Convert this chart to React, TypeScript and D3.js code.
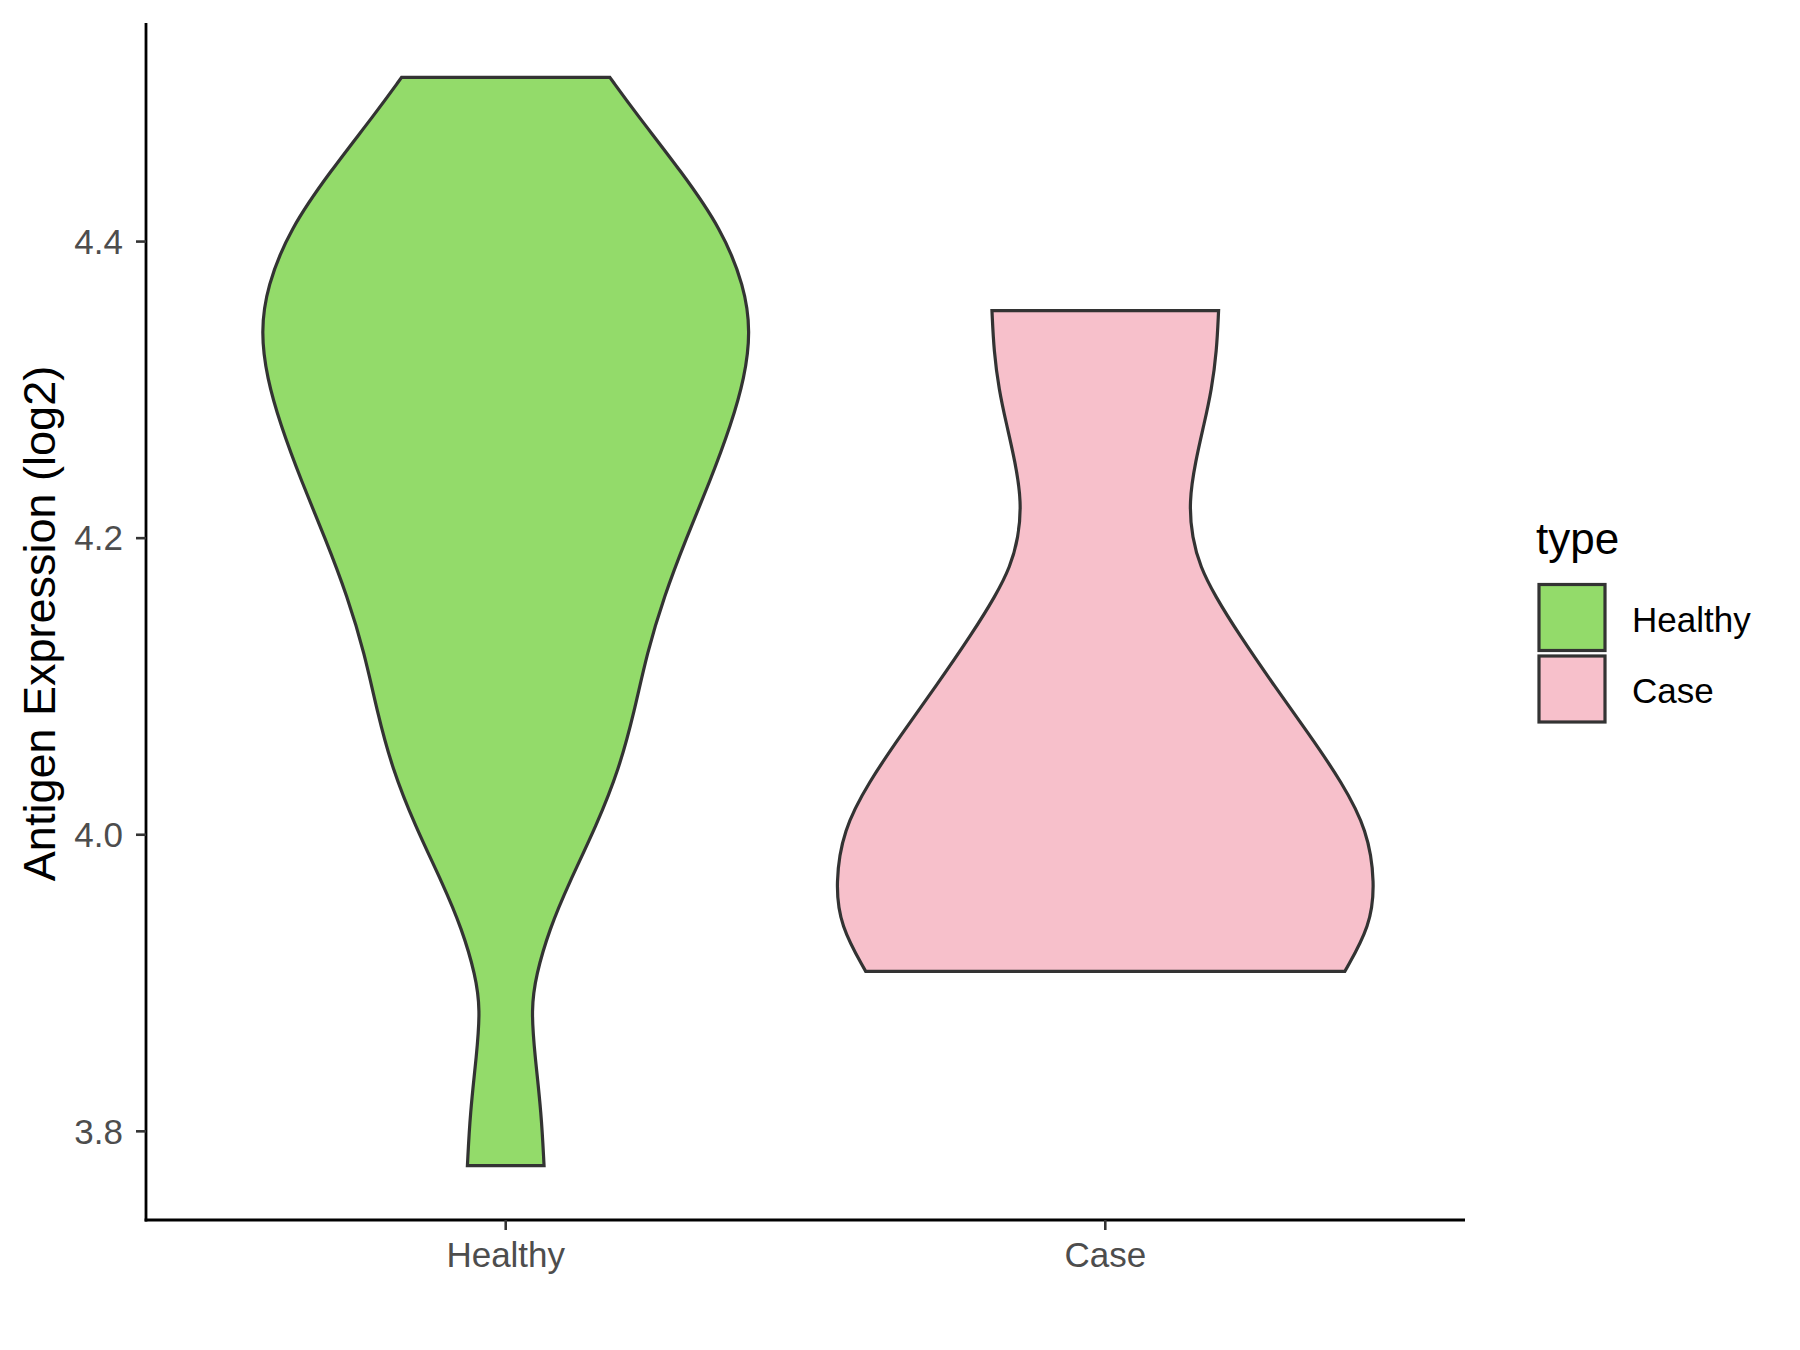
import React from 'react';
import * as d3 from 'd3';

const categories = ['Healthy', 'Case'];
const fillColors = ['#93DB6A', '#F7C0CB'];
const yTicks = [3.8, 4.0, 4.2, 4.4];
const legendTitle = 'type';
const yTitle = 'Antigen Expression (log2)';

const healthyValues = [4.5107, 4.4859, 4.4472, 4.4085, 4.3698, 4.3389, 4.3079, 4.2769, 4.2382, 4.1995, 4.1608, 4.1221, 4.0834, 4.0447, 4.006, 3.9673, 3.9364, 3.9054, 3.8822, 3.8512, 3.8125, 3.7769];
const healthyWidths = [0.386, 0.485, 0.651, 0.8, 0.885, 0.908, 0.885, 0.836, 0.757, 0.668, 0.587, 0.523, 0.477, 0.421, 0.336, 0.234, 0.162, 0.112, 0.094, 0.108, 0.132, 0.142];

const caseValues = [4.3534, 4.326, 4.3001, 4.2775, 4.2517, 4.2243, 4.2001, 4.1807, 4.1613, 4.1355, 4.1, 4.0677, 4.0354, 4.0031, 3.9676, 3.9386, 3.9079];
const caseWidths = [0.42, 0.413, 0.394, 0.367, 0.334, 0.31, 0.322, 0.352, 0.406, 0.494, 0.628, 0.756, 0.877, 0.972, 1.0, 0.983, 0.888];

const allValues = [...healthyValues, ...caseValues];

export default function App() {
  const W = 1800, H = 1350;
  const left = 146, right = 1465, top = 23, bottom = 1220;
  const lo = d3.min(allValues)!, hi = d3.max(allValues)!;
  const pad = (hi - lo) * 0.05;
  const y = d3.scaleLinear().domain([lo - pad, hi + pad]).range([bottom, top]);
  const x = d3.scaleLinear().domain([0.4, categories.length + 0.6]).range([left, right]);
  const unit = x(2) - x(1);
  const maxHalf = 0.45 * unit;

  const series = [
    { vals: healthyValues, widths: healthyWidths },
    { vals: caseValues, widths: caseWidths },
  ];

  const paths = series.map((s, i) => {
    const cx = x(i + 1);
    const pts = s.vals.map((v, j) => [v, s.widths[j]] as [number, number]);
    const area = d3.area<[number, number]>()
      .y(d => y(d[0]))
      .x0(d => cx - d[1] * maxHalf)
      .x1(d => cx + d[1] * maxHalf)
      .curve(d3.curveBasis);
    return area(pts) || '';
  });

  const font = '"Liberation Sans", Arial, sans-serif';
  const stroke = '#333333';

  return (
    <svg width={W} height={H} style={{ position: 'absolute', left: 0, top: 0, background: '#fff' }} fontFamily={font}>
      <rect x={0} y={0} width={W} height={H} fill="#ffffff" />
      {paths.map((p, i) => (
        <path key={i} d={p} fill={fillColors[i]} stroke={stroke} strokeWidth={3.2} strokeLinejoin="miter" />
      ))}
      {/* axes */}
      <line x1={left} x2={left} y1={top} y2={bottom + 1.4} stroke="#000" strokeWidth={2.8} />
      <line x1={left - 1.4} x2={right} y1={bottom} y2={bottom} stroke="#000" strokeWidth={2.8} />
      {yTicks.map(t => (
        <g key={t}>
          <line x1={left - 10} x2={left} y1={y(t)} y2={y(t)} stroke={stroke} strokeWidth={2.6} />
          <text x={123} y={y(t)} dy="0.35em" textAnchor="end" fontSize={35} fill="#4D4D4D">{t.toFixed(1)}</text>
        </g>
      ))}
      {categories.map((c, i) => (
        <g key={c}>
          <line x1={x(i + 1)} x2={x(i + 1)} y1={bottom} y2={bottom + 10} stroke={stroke} strokeWidth={2.6} />
          <text x={x(i + 1)} y={1267} textAnchor="middle" fontSize={35} fill="#4D4D4D">{c}</text>
        </g>
      ))}
      <text transform={`translate(55, ${(top + bottom) / 2 + 2}) rotate(-90)`} textAnchor="middle" fontSize={45} fill="#000">{yTitle}</text>
      {/* legend */}
      <text x={1536} y={554} fontSize={44} fill="#000">{legendTitle}</text>
      {categories.map((c, i) => (
        <g key={c}>
          <rect x={1539} y={584.5 + i * 71.5} width={66} height={66} fill={fillColors[i]} stroke={stroke} strokeWidth={3.2} />
          <text x={1632} y={632 + i * 71} fontSize={35} fill="#000">{c}</text>
        </g>
      ))}
    </svg>
  );
}
